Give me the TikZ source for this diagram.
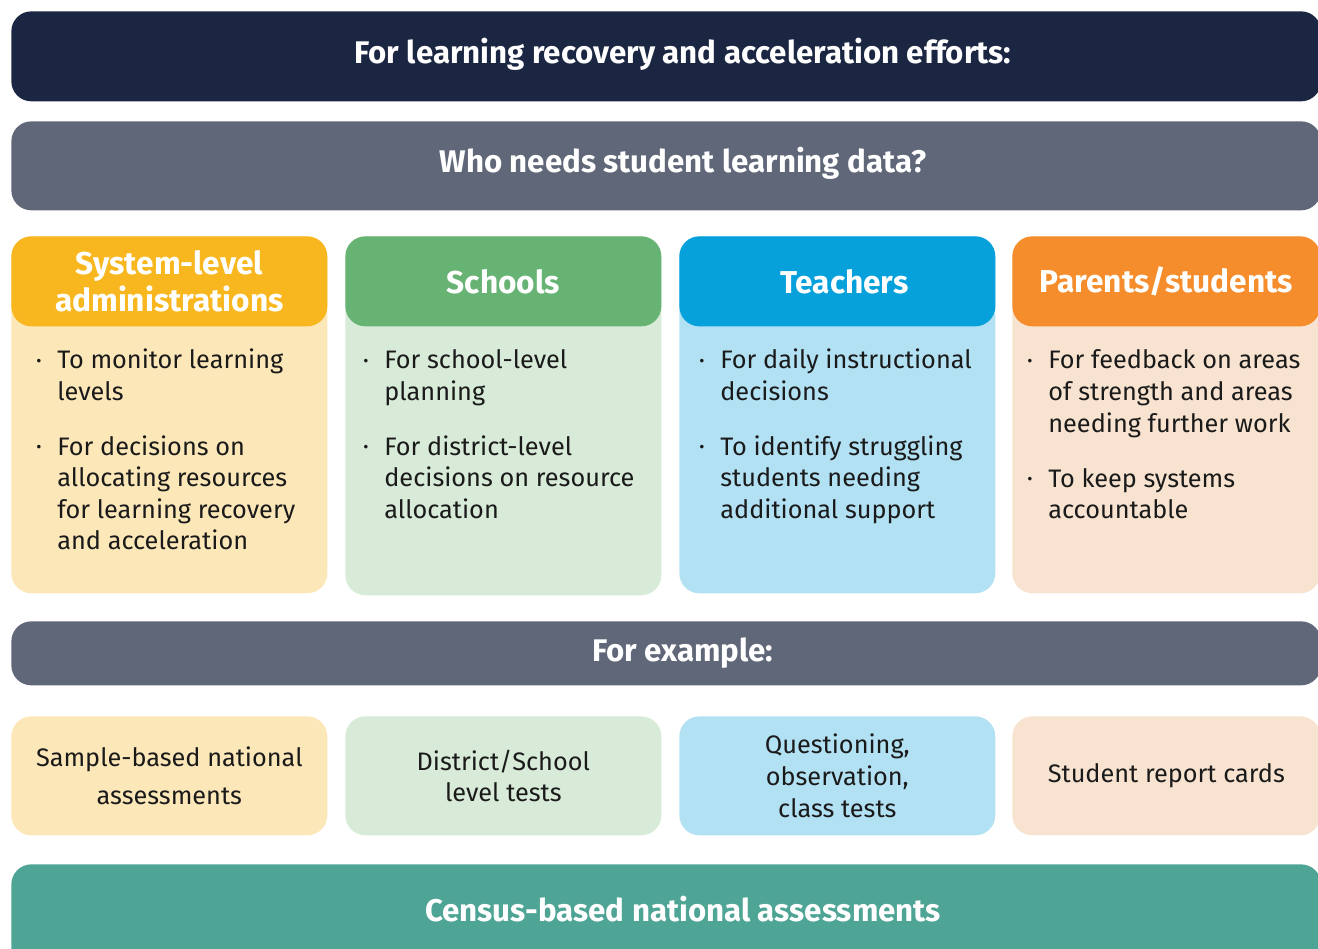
\documentclass[tikz,border=0pt]{standalone}
\usepackage{fontspec}
\setmainfont{Fira Sans}
\usetikzlibrary{positioning}
\usepackage{xcolor}
\definecolor{navy}{HTML}{1B2642}
\definecolor{slate}{HTML}{5F6778}
\definecolor{teal}{HTML}{4FA595}
\definecolor{ink}{HTML}{1A1A1A}
\definecolor{sysH}{HTML}{F8B71F}
\definecolor{sysB}{HTML}{FCE7B9}
\definecolor{schH}{HTML}{67B374}
\definecolor{schB}{HTML}{D8EAD8}
\definecolor{teaH}{HTML}{06A0DB}
\definecolor{teaB}{HTML}{B2E1F4}
\definecolor{parH}{HTML}{F68D2C}
\definecolor{parB}{HTML}{F8E3D0}
\newcommand{\bul}{\llap{\raisebox{1.6pt}{\small\textbullet}\hspace{9pt}}}
\newcommand{\toplines}[1]{\begin{tabular}[t]{@{}l@{}}#1\end{tabular}}

\begin{document}
\begin{tikzpicture}[x=0.02cm,y=-0.02cm,
    bar/.style={rounded corners=0.4cm,anchor=north west,inner sep=0pt,minimum width=26.2cm},%
    bartxt/.style={text=white,font=\fontsize{17.8}{22}\selectfont\bfseries},%
    head/.style={rounded corners=0.4cm,anchor=north west,inner sep=0pt,minimum width=6.32cm,minimum height=1.8cm,
      text=white,align=center,font=\fontsize{18}{21.5}\selectfont\bfseries},%
    body/.style={rounded corners=0.4cm,anchor=north west,inner sep=0pt,minimum width=6.32cm,minimum height=7.14cm},%
    item/.style={anchor=base west,inner sep=0pt,text=ink,font=\fontsize{14.4}{18}\selectfont},%
    ex/.style={rounded corners=0.4cm,anchor=north west,inner sep=0pt,minimum width=6.32cm,minimum height=2.38cm,
      text=ink,align=center,font=\fontsize{14.4}{18}\selectfont}]
    \useasboundingbox (0,0) rectangle (1318,949);
    \clip (0,0) rectangle (1318,949);
    % banners
    \node[bar,fill=navy,minimum height=1.8cm] (top) at (11,11) {};
    \node[bartxt] (toptxt) at (683,54) {For learning recovery and acceleration efforts:};
    \node[bar,fill=slate,minimum height=1.78cm] (who) at (11,121) {};
    \node[bartxt] (whotxt) at (683,163) {Who needs student learning data?};
    % columns
    \node[body,fill=sysB] (sysbody) at (11,236) {};
    \node[head,fill=sysH] (syshead) at (11,236) {System-level\\administrations};
    \node[body,fill=schB,minimum height=7.18cm] (schbody) at (345,236) {};
    \node[head,fill=schH] (schhead) at (345,236) {Schools};
    \node[body,fill=teaB] (teabody) at (679,236) {};
    \node[head,fill=teaH] (teahead) at (679,236) {\hspace*{8pt}Teachers};
    \node[body,fill=parB,minimum width=6.16cm] (parbody) at (1012,236) {};
    \node[head,fill=parH,minimum width=6.16cm] (parhead) at (1012,236) {Parents/students};
    % bullets
    \node[item] (sys1) at (57,369) {\toplines{\bul To monitor learning\\levels}};
    \node[item] (sys2) at (57,455) {\toplines{\bul For decisions on\\allocating resources\\for learning recovery\\and acceleration}};
    \node[item] (sch1) at (384,369) {\toplines{\bul For school-level\\planning}};
    \node[item] (sch2) at (384,455) {\toplines{\bul For district-level\\decisions on resource\\allocation}};
    \node[item] (tea1) at (720,369) {\toplines{\bul For daily instructional\\decisions}};
    \node[item] (tea2) at (720,455) {\toplines{\bul To identify struggling\\students needing\\additional support}};
    \node[item] (par1) at (1048,369) {\toplines{\bul For feedback on areas\\of strength and areas\\needing further work}};
    \node[item] (par2) at (1048,487) {\toplines{\bul To keep systems\\accountable}};
    % examples
    \node[bar,fill=slate,minimum height=1.28cm] (forex) at (11,621) {};
    \node[bartxt] (forextxt) at (683,653) {For example:};
    \node[ex,fill=sysB] (ex1) at (11,716) {Sample-based national\\[4pt]assessments};
    \node[ex,fill=schB] (ex2) at (345,716) {District/School\\level tests};
    \node[ex,fill=teaB] (ex3) at (679,716) {Questioning,\\observation,\\class tests};
    \node[ex,fill=parB,minimum width=6.16cm] (ex4) at (1012,716) {Student report cards};
    \node[bar,fill=teal,minimum height=2.2cm] (census) at (11,864) {};
    \node[bartxt] (censustxt) at (683,909) {Census-based national assessments};
\end{tikzpicture}
\end{document}
